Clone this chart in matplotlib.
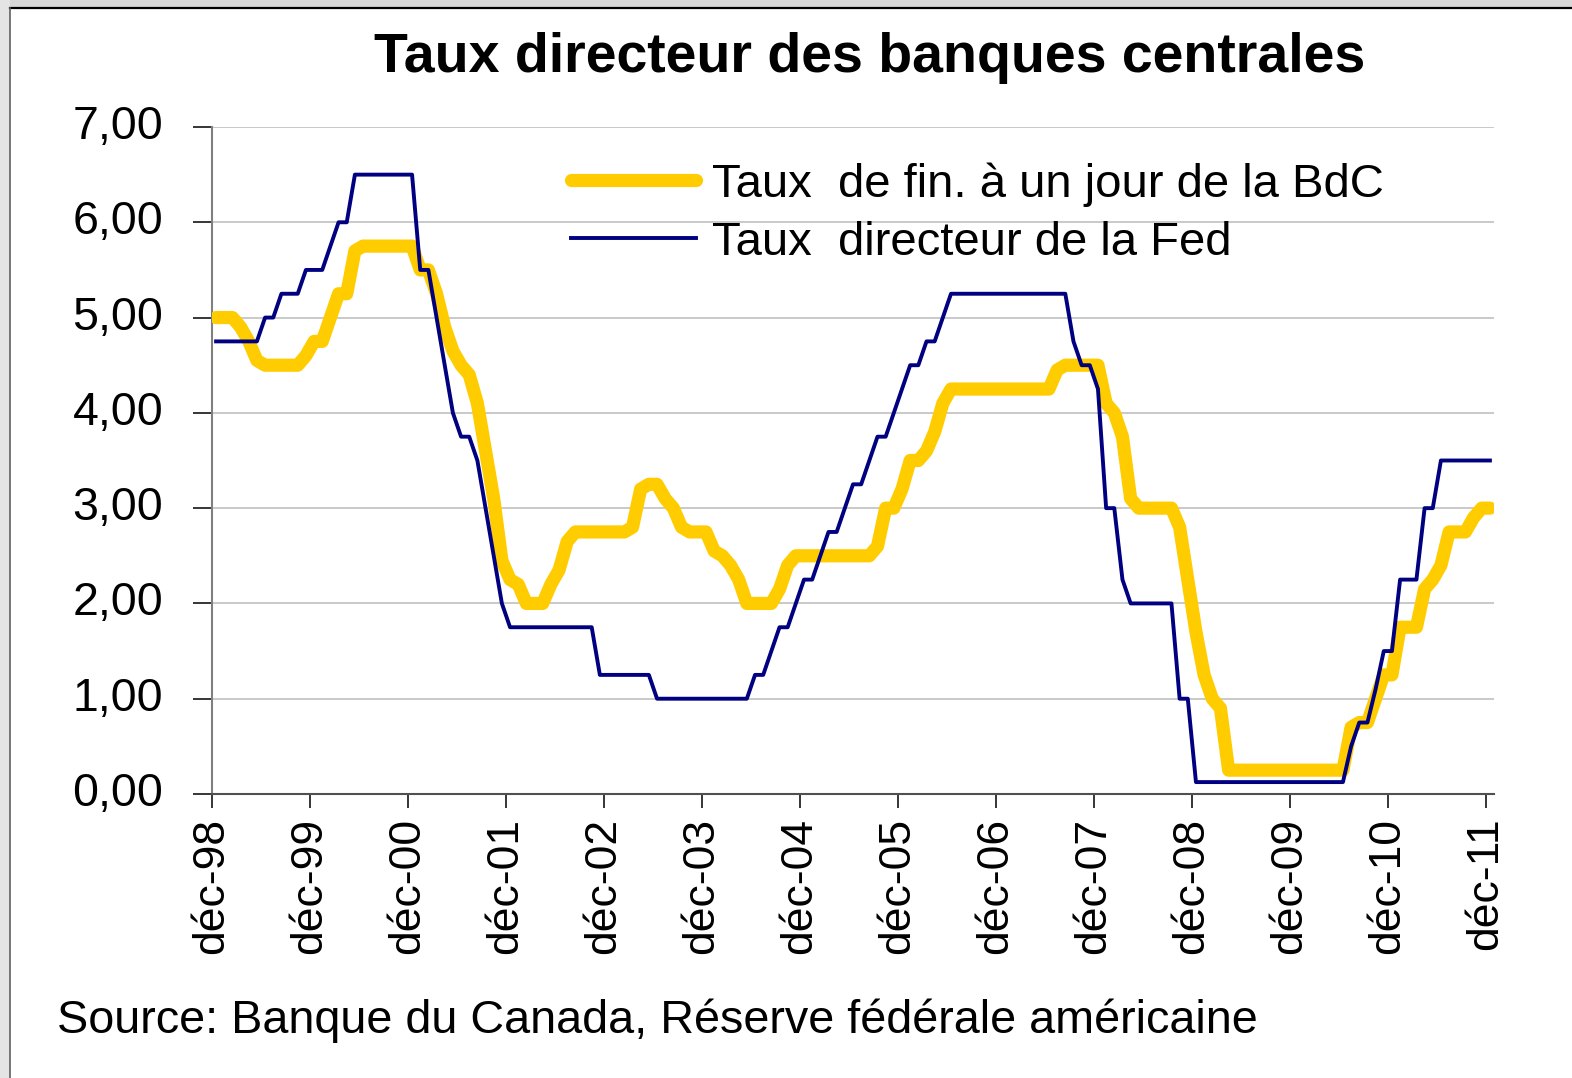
import matplotlib
matplotlib.use("Agg")
import matplotlib.pyplot as plt
import matplotlib.transforms as mtransforms
from matplotlib import font_manager
from matplotlib.patches import Rectangle
import numpy as np

# month index 0 = déc-98 ... 156 = déc-11 (end-of-month values, %)
fed = [
    4.75, 4.75, 4.75, 4.75, 4.75, 4.75, 5.0, 5.0, 5.25, 5.25, 5.25, 5.5,
    5.5, 5.5, 5.75, 6.0, 6.0, 6.5, 6.5, 6.5, 6.5, 6.5, 6.5, 6.5,
    6.5, 5.5, 5.5, 5.0, 4.5, 4.0, 3.75, 3.75, 3.5, 3.0, 2.5, 2.0,
    1.75, 1.75, 1.75, 1.75, 1.75, 1.75, 1.75, 1.75, 1.75, 1.75, 1.75, 1.25,
    1.25, 1.25, 1.25, 1.25, 1.25, 1.25, 1.0, 1.0, 1.0, 1.0, 1.0, 1.0,
    1.0, 1.0, 1.0, 1.0, 1.0, 1.0, 1.25, 1.25, 1.5, 1.75, 1.75, 2.0,
    2.25, 2.25, 2.5, 2.75, 2.75, 3.0, 3.25, 3.25, 3.5, 3.75, 3.75, 4.0,
    4.25, 4.5, 4.5, 4.75, 4.75, 5.0, 5.25, 5.25, 5.25, 5.25, 5.25, 5.25,
    5.25, 5.25, 5.25, 5.25, 5.25, 5.25, 5.25, 5.25, 5.25, 4.75, 4.5, 4.5,
    4.25, 3.0, 3.0, 2.25, 2.0, 2.0, 2.0, 2.0, 2.0, 2.0, 1.0, 1.0,
    0.125, 0.125, 0.125, 0.125, 0.125, 0.125, 0.125, 0.125, 0.125, 0.125, 0.125, 0.125,
    0.125, 0.125, 0.125, 0.125, 0.125, 0.125, 0.125, 0.5, 0.75, 0.75, 1.1, 1.5,
    1.5, 2.25, 2.25, 2.25, 3.0, 3.0, 3.5, 3.5, 3.5, 3.5, 3.5, 3.5,
    3.5,
]

bdc = [
    5.0, 5.0, 5.0, 4.9, 4.75, 4.55, 4.5, 4.5, 4.5, 4.5, 4.5, 4.6,
    4.75, 4.75, 5.0, 5.25, 5.25, 5.7, 5.75, 5.75, 5.75, 5.75, 5.75, 5.75,
    5.75, 5.5, 5.5, 5.25, 4.9, 4.65, 4.5, 4.4, 4.1, 3.6, 3.1, 2.45,
    2.25, 2.2, 2.0, 2.0, 2.0, 2.2, 2.35, 2.65, 2.75, 2.75, 2.75, 2.75,
    2.75, 2.75, 2.75, 2.8, 3.2, 3.25, 3.25, 3.1, 3.0, 2.8, 2.75, 2.75,
    2.75, 2.55, 2.5, 2.4, 2.25, 2.0, 2.0, 2.0, 2.0, 2.15, 2.4, 2.5,
    2.5, 2.5, 2.5, 2.5, 2.5, 2.5, 2.5, 2.5, 2.5, 2.6, 3.0, 3.0,
    3.2, 3.5, 3.5, 3.6, 3.8, 4.1, 4.25, 4.25, 4.25, 4.25, 4.25, 4.25,
    4.25, 4.25, 4.25, 4.25, 4.25, 4.25, 4.25, 4.45, 4.5, 4.5, 4.5, 4.5,
    4.5, 4.1, 4.0, 3.75, 3.1, 3.0, 3.0, 3.0, 3.0, 3.0, 2.8, 2.25,
    1.7, 1.25, 1.0, 0.9, 0.25, 0.25, 0.25, 0.25, 0.25, 0.25, 0.25, 0.25,
    0.25, 0.25, 0.25, 0.25, 0.25, 0.25, 0.25, 0.7, 0.75, 0.75, 1.0, 1.25,
    1.25, 1.75, 1.75, 1.75, 2.15, 2.25, 2.4, 2.75, 2.75, 2.75, 2.9, 3.0,
    3.0,
]

x_labels = ["déc-98", "déc-99", "déc-00", "déc-01", "déc-02", "déc-03", "déc-04",
            "déc-05", "déc-06", "déc-07", "déc-08", "déc-09", "déc-10", "déc-11"]
y_ticks = [0, 1, 2, 3, 4, 5, 6, 7]
y_labels = ["0,00", "1,00", "2,00", "3,00", "4,00", "5,00", "6,00", "7,00"]

names = {f.name for f in font_manager.fontManager.ttflist}
sans = "Liberation Sans" if "Liberation Sans" in names else "DejaVu Sans"
plt.rcParams["font.family"] = sans

W, H = 1572, 1078
fig = plt.figure(figsize=(W / 100, H / 100), dpi=100)

# frame around the chart area
fig.patches.append(Rectangle((0, 1 - 8 / H), 1, 8 / H, transform=fig.transFigure,
                             facecolor="#d8d8d8", edgecolor="none"))
fig.patches.append(Rectangle((0, 0), 10 / W, 1, transform=fig.transFigure,
                             facecolor="#e4e4e4", edgecolor="none"))
fig.lines.append(plt.Line2D([10 / W, 1], [1 - 8 / H, 1 - 8 / H], transform=fig.transFigure,
                            color="black", lw=1.6))
fig.lines.append(plt.Line2D([10 / W, 10 / W], [0, 1 - 8 / H], transform=fig.transFigure,
                            color="#606060", lw=1.2))

ax = fig.add_axes([212 / W, 1 - 794 / H, (1494 - 212) / W, (794 - 127) / H])

x = np.arange(len(fed)) + 0.5
ax.plot(x, bdc, color="#FFCC00", lw=9.5, solid_capstyle="round",
        solid_joinstyle="round", label="Taux  de fin. à un jour de la BdC", zorder=3)
ax.plot(x, fed, color="#000080", lw=2.8, solid_joinstyle="round",
        label="Taux  directeur de la Fed", zorder=4)

ax.set_xlim(0, 157)
ax.set_ylim(0, 7)
ax.set_xticks(np.arange(0, 157, 12))
ax.set_xticklabels(x_labels, rotation=90, fontsize=32)
ax.set_yticks(y_ticks)
ax.set_yticklabels(y_labels, fontsize=33.5)
ax.tick_params(axis="y", length=14, width=1.1, pad=21, colors="black")
ax.tick_params(axis="x", length=10, width=1.1, pad=7, colors="black")
up = mtransforms.ScaledTranslation(0, 5 / 100, fig.dpi_scale_trans)
for lab in ax.get_yticklabels():
    lab.set_transform(lab.get_transform() + up)
ax.grid(axis="y", color="#c0c0c0", lw=1.2)
ax.set_axisbelow(True)
for side in ("top", "right"):
    ax.spines[side].set_visible(False)
ax.spines["left"].set_color("#808080")
ax.spines["left"].set_linewidth(1.5)
ax.spines["bottom"].set_color("#505050")
ax.spines["bottom"].set_linewidth(1.5)

ax.legend(loc="upper left", bbox_to_anchor=(571 / W, 1 - 162 / H),
          bbox_transform=fig.transFigure, frameon=False, borderpad=0,
          borderaxespad=0, handlelength=2.65, handletextpad=0.34,
          labelspacing=0.3, prop={"size": 34})

fig.text(870 / W, 1 - 72 / H, "Taux directeur des banques centrales", ha="center",
         va="baseline", fontsize=40, fontweight="bold")
fig.text(57 / W, 1 - 1033 / H, "Source: Banque du Canada, Réserve fédérale américaine",
         ha="left", va="baseline", fontsize=33.7)

fig.savefig("out.png", dpi=100)
